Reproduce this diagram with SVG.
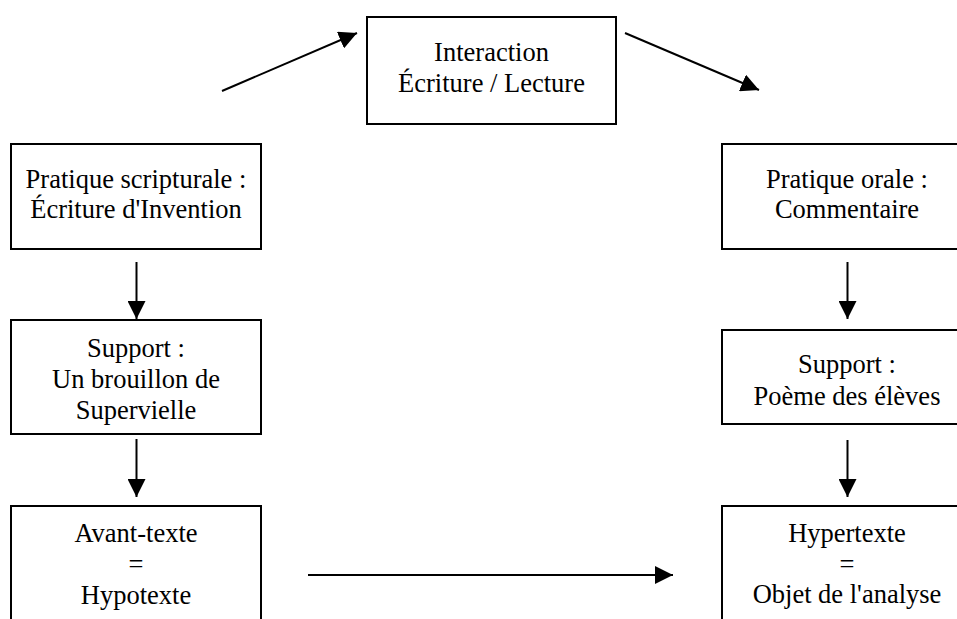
<svg xmlns="http://www.w3.org/2000/svg" width="957" height="619" viewBox="0 0 957 619">
<defs>
<style>
.box{fill:#fff;stroke:#000;stroke-width:2}
.t{font-family:"Liberation Serif","Times New Roman",serif;font-size:26.5px;fill:#000;text-anchor:middle}
.c{stroke:#000;stroke-width:2;fill:none;marker-end:url(#ah)}
</style>
<marker id="ah" markerUnits="userSpaceOnUse" markerWidth="18" markerHeight="18" viewBox="0 0 16 16" refX="16" refY="8" orient="auto">
<path d="M0,0 L16,8 L0,16 Z" fill="#000"/>
</marker>
</defs>
<rect width="957" height="619" fill="#fff"/>
<g id="connectors">
<line class="c" x1="222" y1="91" x2="357" y2="33"/>
<line class="c" x1="625" y1="33" x2="759" y2="90"/>
<line class="c" x1="136.5" y1="262" x2="136.5" y2="319"/>
<line class="c" x1="136.5" y1="439" x2="136.5" y2="497"/>
<line class="c" x1="847.5" y1="262" x2="847.5" y2="319"/>
<line class="c" x1="847.5" y1="440" x2="847.5" y2="497"/>
<line class="c" x1="308" y1="575" x2="673" y2="575"/>
</g>
<g id="interaction">
<rect class="box" x="367" y="17" width="249" height="107"/>
<text class="t" x="491.5" y="61">Interaction</text>
<text class="t" x="491.5" y="92">Écriture / Lecture</text>
</g>
<g id="pratique-scripturale">
<rect class="box" x="11" y="144" width="250" height="105"/>
<text class="t" x="136" y="188">Pratique scripturale :</text>
<text class="t" x="136" y="218">Écriture d'Invention</text>
</g>
<g id="support-left">
<rect class="box" x="11" y="320" width="250" height="114"/>
<text class="t" x="136" y="357">Support :</text>
<text class="t" x="136" y="388">Un brouillon de</text>
<text class="t" x="136" y="419">Supervielle</text>
</g>
<g id="avant-texte">
<rect class="box" x="11" y="506" width="250" height="130"/>
<text class="t" x="136" y="542">Avant-texte</text>
<text class="t" x="136" y="573">=</text>
<text class="t" x="136" y="604">Hypotexte</text>
</g>
<g id="pratique-orale">
<rect class="box" x="722" y="144" width="250" height="105"/>
<text class="t" x="847" y="188">Pratique orale :</text>
<text class="t" x="847" y="218">Commentaire</text>
</g>
<g id="support-right">
<rect class="box" x="722" y="330" width="250" height="94"/>
<text class="t" x="847" y="373">Support :</text>
<text class="t" x="847" y="405">Poème des élèves</text>
</g>
<g id="hypertexte">
<rect class="box" x="722" y="506" width="250" height="130"/>
<text class="t" x="847" y="542">Hypertexte</text>
<text class="t" x="847" y="573">=</text>
<text class="t" x="847" y="603">Objet de l'analyse</text>
</g>
</svg>
